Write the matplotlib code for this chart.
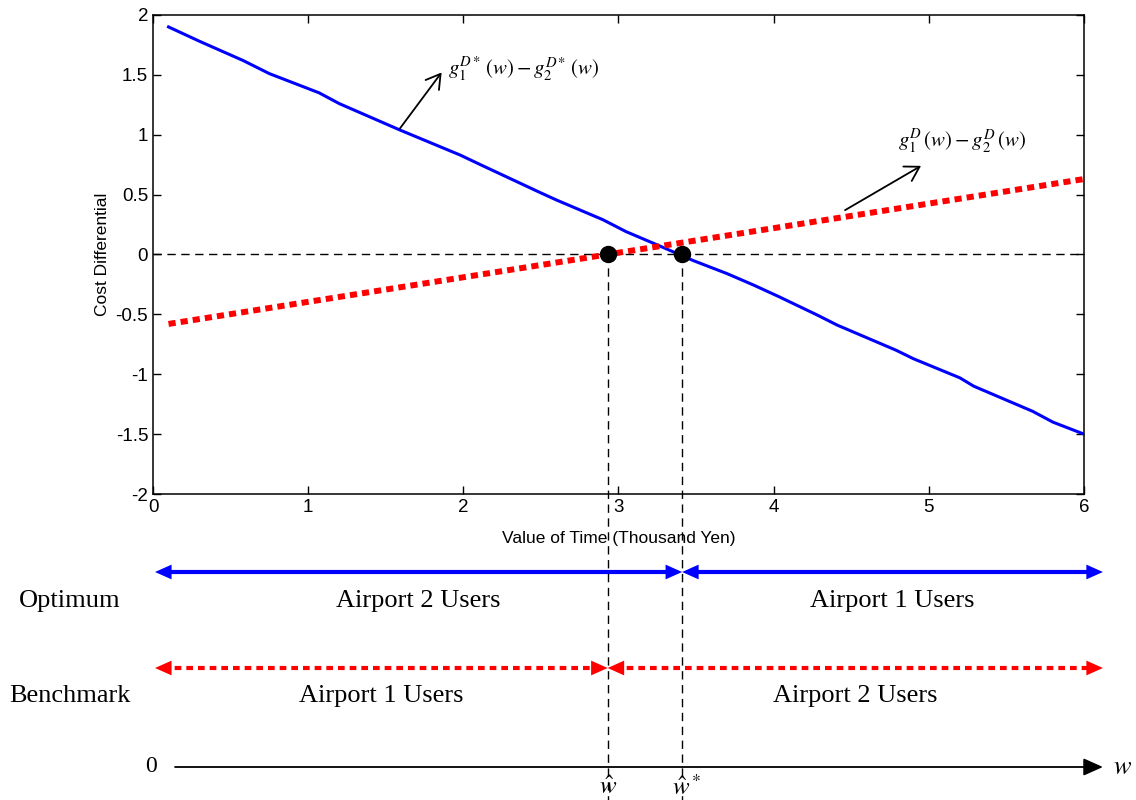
import numpy as np
import matplotlib
matplotlib.use("Agg")
import matplotlib.pyplot as plt
from matplotlib import transforms
from matplotlib.ticker import FuncFormatter

plt.rcParams['axes.unicode_minus'] = False
plt.rcParams['mathtext.fontset'] = 'stix'

SANS = ['Liberation Sans Narrow', 'Liberation Sans', 'DejaVu Sans']
SERIF = ['Liberation Serif', 'DejaVu Serif']

# optimum cost differential g1D*(w) - g2D*(w)
opt_w = [0.10, 0.30, 0.58, 0.75, 1.07, 1.20, 1.59, 1.72, 1.98, 2.11, 2.49, 2.60,
         2.90, 3.05, 3.25, 3.48, 3.70, 3.87, 4.03, 4.28, 4.41, 4.79, 4.90, 5.20,
         5.29, 5.67, 5.80, 6.00]
opt_diff = [1.90, 1.78, 1.62, 1.51, 1.35, 1.26, 1.04, 0.97, 0.83, 0.75, 0.52, 0.455,
            0.29, 0.19, 0.08, -0.05, -0.16, -0.255, -0.35, -0.505, -0.59, -0.80, -0.87, -1.03,
            -1.10, -1.31, -1.40, -1.50]

# benchmark cost differential g1D(w) - g2D(w)
bench_w = [0.10, 6.00]
bench_diff = [-0.58, 0.63]

w_hat = 2.93    # benchmark threshold
w_star = 3.41   # optimum threshold

xticks = [0, 1, 2, 3, 4, 5, 6]
yticks = [-2, -1.5, -1, -0.5, 0, 0.5, 1, 1.5, 2]

fig = plt.figure(figsize=(11.36, 8), dpi=100)
ax = fig.add_axes([0.1347, 0.3825, 0.8195, 0.5988])

ax.plot(opt_w, opt_diff, color='#0000ff', lw=2.2, zorder=3)
ax.plot(bench_w, bench_diff, color='#ff0000', lw=4.3, linestyle=(0, (1.2, 0.85)),
        dash_capstyle='butt', zorder=3)
ax.axhline(0, color='k', lw=1.0, linestyle=(0, (6, 4)), zorder=2)
ax.plot([w_hat, w_star], [0, 0], 'o', color='k', ms=11.5, zorder=5)

ax.set_xlim(0, 6)
ax.set_ylim(-2, 2)
ax.set_xticks(xticks)
ax.set_yticks(yticks)
ax.xaxis.set_major_formatter(FuncFormatter(lambda v, p: '%g' % v))
ax.yaxis.set_major_formatter(FuncFormatter(lambda v, p: '%g' % v))
ax.tick_params(direction='in', length=6, width=1, top=True, right=True, labelsize=13.5)
for lab in ax.get_xticklabels() + ax.get_yticklabels():
    lab.set_family(SANS)
for sp in ax.spines.values():
    sp.set_linewidth(1.1)
ax.set_xlabel('Value of Time (Thousand Yen)', family=SANS, fontsize=12.5, labelpad=11)
ax.set_ylabel('Cost Differential', family=SANS, fontsize=12.5, labelpad=4)

# curve labels
ax.annotate('', xy=(1.86, 1.52), xytext=(1.59, 1.05),
            arrowprops=dict(arrowstyle='->,head_length=0.5,head_width=0.3', lw=1.3,
                            color='k', shrinkA=0, shrinkB=0, mutation_scale=20))
ax.text(1.90, 1.55, r'$g_1^{D*}\,(w)-g_2^{D*}\,(w)$', fontsize=15, ha='left', va='center')
ax.annotate('', xy=(4.95, 0.74), xytext=(4.46, 0.37),
            arrowprops=dict(arrowstyle='->,head_length=0.5,head_width=0.3', lw=1.3,
                            color='k', shrinkA=0, shrinkB=0, mutation_scale=20))
ax.text(4.80, 0.94, r'$g_1^{D}\,(w)-g_2^{D}\,(w)$', fontsize=15, ha='left', va='center')

# threshold drop lines, running from y=0 to the bottom of the figure
y0_fig = fig.transFigure.inverted().transform(ax.transData.transform((0, 0)))[1]
drop = transforms.blended_transform_factory(ax.transData, fig.transFigure)
for w in (w_hat, w_star):
    ax.plot([w, w], [y0_fig, 0], color='k', lw=1.0, linestyle=(0, (6, 4)),
            transform=drop, clip_on=False, zorder=2)

# user segments below the chart
lo = fig.add_axes([0.1347, 0.0, 0.8195, 0.3825])
lo.set_xlim(0, 6)
lo.set_ylim(0, 306)
lo.axis('off')
lo.patch.set_alpha(0)

x_left, x_right = 0.013, 6.122
inset = 0.05


def span(x0, x1, y, color, ls, lw):
    lo.plot([x0 + inset, x1 - inset], [y, y], color=color, lw=lw, linestyle=ls,
            dash_capstyle='butt', solid_capstyle='butt', clip_on=False)
    lo.annotate('', xy=(x1, y), xytext=(x0, y), annotation_clip=False,
                arrowprops=dict(arrowstyle='<|-|>,head_length=0.85,head_width=0.38',
                                lw=0, color=color, shrinkA=0, shrinkB=0,
                                mutation_scale=14, clip_on=False))


rows = [
    ('Optimum', 228, 199, w_star, '#0000ff', '-', 3.0, 'Airport 2 Users', 'Airport 1 Users'),
    ('Benchmark', 132, 104, w_hat, '#ff0000', (0, (1.6, 1.2)), 3.0, 'Airport 1 Users', 'Airport 2 Users'),
]
for name, y_arrow, y_text, cut, color, ls, lw, left_lab, right_lab in rows:
    span(x_left, cut, y_arrow, color, ls, lw)
    span(cut, x_right, y_arrow, color, ls, lw)
    lo.text(-0.535, y_text, name, family=SERIF, fontsize=19, ha='center', va='center')
    lo.text((x_left + cut) / 2, y_text, left_lab, family=SERIF, fontsize=19,
            ha='center', va='center')
    lo.text((cut + x_right) / 2, y_text, right_lab, family=SERIF, fontsize=19,
            ha='center', va='center')

# w axis
lo.annotate('', xy=(x_right, 33), xytext=(0.142, 33), annotation_clip=False,
            arrowprops=dict(arrowstyle='-|>,head_length=0.85,head_width=0.38', lw=1.3,
                            color='k', shrinkA=0, shrinkB=0, mutation_scale=14,
                            clip_on=False))
lo.text(-0.013, 33, '0', family=SERIF, fontsize=17, ha='center', va='center')
lo.text(6.25, 33, r'$w$', fontsize=19, ha='center', va='center')
lo.text(w_hat, 13, r'$\hat{w}$', fontsize=18, ha='center', va='center')
lo.text(w_star + 0.03, 13, r'$\hat{w}^*$', fontsize=18, ha='center', va='center')

fig.savefig('out.png', dpi=100)
